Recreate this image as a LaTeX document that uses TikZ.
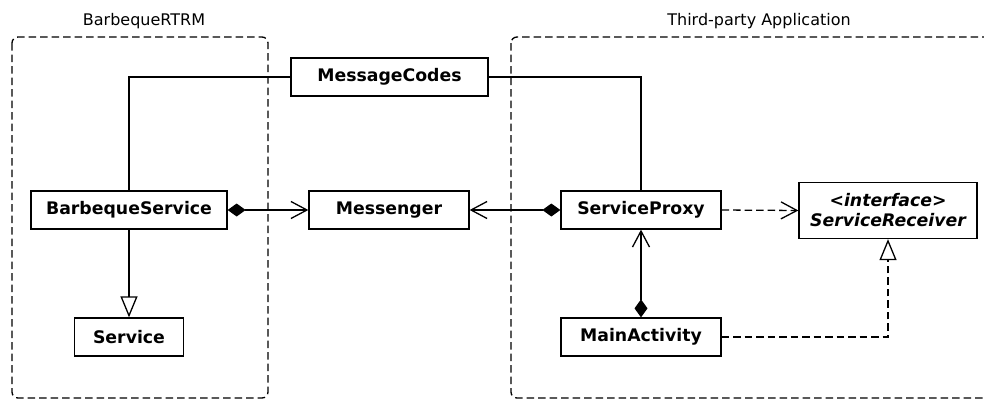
\documentclass[tikz,border=0pt]{standalone}
\usepackage{fontspec}
\setmainfont{DejaVu Sans}
\usetikzlibrary{arrows.meta}

\tikzset{
  umlclass/.style={draw, line width=1.3pt, fill=white, inner sep=0pt,
    minimum height=38pt, font=\fontsize{17.3}{20}\selectfont\bfseries},
  grouplabel/.style={anchor=base, inner sep=0pt, font=\fontsize{16}{19}\selectfont},
  groupframe/.style={draw, line width=1.3pt, dash pattern=on 7.5pt off 4pt, rounded corners=6pt},
  link/.style={line width=1.3pt},
  compose/.style={{Diamond[length=18pt,width=13pt]}-{Straight Barb[length=16pt,width=17pt,line width=1.3pt]}},
  uses/.style={-{Straight Barb[length=16pt,width=17pt,line width=1.3pt]}, dash pattern=on 7.5pt off 4pt},
  inherits/.style={-{Triangle[open,length=21pt,width=17pt,line width=1.3pt,fill=white]}},
  realizes/.style={-{Triangle[open,length=21pt,width=17pt,line width=1.3pt,fill=white]}, dash pattern=on 7.5pt off 4pt}
}

\begin{document}
\begin{tikzpicture}[x=1pt,y=-1pt]
  \useasboundingbox (0,0) rectangle (984,399);
  \clip (0,0) rectangle (984,399);

  % component frames
  \draw[groupframe] (12,37) rectangle (268,398);
  \draw[groupframe] (511,37) rectangle (1000,398);
  \node[grouplabel] (lblL) at (144,25.3) {BarbequeRTRM};
  \node[grouplabel] (lblR) at (759,25.3) {Third-party Application};

  % classes
  \node[umlclass, minimum width=197pt] (mc)  at (389.5,77) {MessageCodes};
  \node[umlclass, minimum width=196pt] (bs)  at (129,210) {BarbequeService};
  \node[umlclass, minimum width=160pt] (msg) at (389,210) {Messenger};
  \node[umlclass, minimum width=160pt] (sp)  at (641,210) {ServiceProxy};
  \node[umlclass, minimum width=178pt, minimum height=56pt, align=center,
        font=\fontsize{17.3}{20}\selectfont\bfseries\itshape] (sr) at (888,210.5)
        {<interface>\\ServiceReceiver};
  \node[umlclass, minimum width=109pt] (svc) at (129,337) {Service};
  \node[umlclass, minimum width=160pt] (ma)  at (641,337) {MainActivity};

  % relations
  \draw[link] (bs.north) |- (mc.west);
  \draw[link] (sp.north) |- (mc.east);
  \draw[link, compose] (bs.east) -- (msg.west);
  \draw[link, compose] (sp.west) -- (msg.east);
  \draw[link, compose] (ma.north) -- (sp.south);
  \draw[link, uses] (sp.east) -- (sr.west);
  \draw[link, inherits] (bs.south) -- (svc.north);
  \draw[link, realizes] (ma.east) -| (sr.south);
\end{tikzpicture}
\end{document}
